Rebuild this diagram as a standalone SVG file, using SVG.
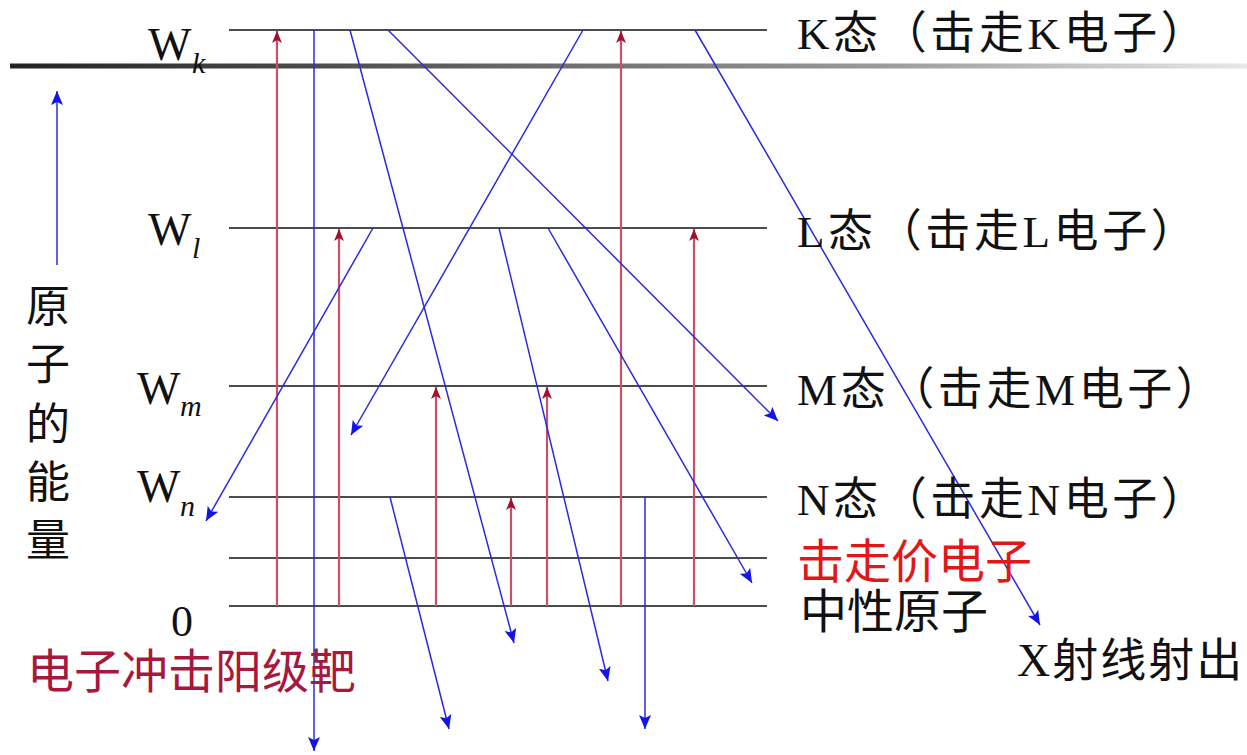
<svg xmlns="http://www.w3.org/2000/svg" width="1247" height="755" viewBox="0 0 1247 755">
<style>
.lvl{stroke:#111;stroke-width:1.6;fill:none}
.red{stroke:#c9506a;stroke-width:2.2;fill:none}
.blue{stroke:#2a2ae0;stroke-width:1.5;fill:none}
.t{font-family:"Liberation Serif","Noto Sans CJK SC",serif;fill:#111}
.cjk{font-family:"Noto Sans CJK SC",sans-serif}
.it{font-style:italic}
.st{letter-spacing:3.6px}
</style>
<defs>
<linearGradient id="bar" x1="0" y1="0" x2="1" y2="0">
<stop offset="0" stop-color="#222"/>
<stop offset="0.3" stop-color="#555"/>
<stop offset="0.7" stop-color="#999"/>
<stop offset="1" stop-color="#e8e8e8"/>
</linearGradient>
<marker id="ar" viewBox="0 0 12 10" refX="12" refY="5" markerWidth="12" markerHeight="10" orient="auto" markerUnits="userSpaceOnUse">
<path d="M0,0 L12,5 L0,10 L3,5 z" fill="#a3102e"/>
</marker>
<marker id="ab" viewBox="0 0 14 12" refX="14" refY="6" markerWidth="14" markerHeight="12" orient="auto" markerUnits="userSpaceOnUse">
<path d="M0,0 L14,6 L0,12 L3,6 z" fill="#1414e6"/>
</marker>
</defs>
<rect width="1247" height="755" fill="#fff"/>
<rect id="bar-line" x="10" y="63.5" width="1237" height="5" fill="url(#bar)"/>

<g id="levels">
<line class="lvl" x1="229" y1="30" x2="767" y2="30"/>
<line class="lvl" x1="229" y1="228" x2="767" y2="228"/>
<line class="lvl" x1="229" y1="386" x2="767" y2="386"/>
<line class="lvl" x1="229" y1="497" x2="767" y2="497"/>
<line class="lvl" x1="229" y1="558" x2="767" y2="558"/>
<line class="lvl" x1="229" y1="606" x2="767" y2="606"/>
</g>

<g id="connectors">
<line class="red" x1="277" y1="606" x2="277" y2="31" marker-end="url(#ar)"/>
<line class="red" x1="339" y1="606" x2="339" y2="229" marker-end="url(#ar)"/>
<line class="red" x1="436" y1="606" x2="436" y2="387" marker-end="url(#ar)"/>
<line class="red" x1="511" y1="606" x2="511" y2="498" marker-end="url(#ar)"/>
<line class="red" x1="547" y1="606" x2="547" y2="387" marker-end="url(#ar)"/>
<line class="red" x1="621" y1="606" x2="621" y2="31" marker-end="url(#ar)"/>
<line class="red" x1="694" y1="606" x2="694" y2="229" marker-end="url(#ar)"/>

<line class="blue" x1="314" y1="30" x2="314" y2="751" marker-end="url(#ab)"/>
<line class="blue" x1="350" y1="30" x2="514" y2="643" marker-end="url(#ab)"/>
<line class="blue" x1="388" y1="30" x2="778" y2="421" marker-end="url(#ab)"/>
<line class="blue" x1="583" y1="30" x2="351" y2="435" marker-end="url(#ab)"/>
<line class="blue" x1="695" y1="30" x2="1040" y2="625" marker-end="url(#ab)"/>
<line class="blue" x1="373" y1="228" x2="206" y2="521" marker-end="url(#ab)"/>
<line class="blue" x1="499" y1="228" x2="608" y2="681" marker-end="url(#ab)"/>
<line class="blue" x1="548" y1="228" x2="752" y2="583" marker-end="url(#ab)"/>
<line class="blue" x1="390" y1="497" x2="449" y2="729" marker-end="url(#ab)"/>
<line class="blue" x1="645" y1="497" x2="645" y2="729" marker-end="url(#ab)"/>
<line class="blue" x1="57" y1="265" x2="57" y2="91" marker-end="url(#ab)"/>
</g>

<g id="label-Wk"><text class="t" x="148" y="60" font-size="46">W</text><text class="t it" x="192" y="73" font-size="30">k</text></g>
<g id="label-Wl"><text class="t" x="148" y="245" font-size="46">W</text><text class="t it" x="192" y="258" font-size="30">l</text></g>
<g id="label-Wm"><text class="t" x="137" y="404" font-size="46">W</text><text class="t it" x="180" y="416" font-size="30">m</text></g>
<g id="label-Wn"><text class="t" x="137" y="502" font-size="46">W</text><text class="t it" x="180" y="516" font-size="30">n</text></g>
<g id="label-0"><text class="t" x="171" y="636" font-size="44">0</text></g>

<g id="label-axis" class="t cjk" font-size="44" text-anchor="middle">
<text x="48" y="322">原</text>
<text x="48" y="380">子</text>
<text x="48" y="440">的</text>
<text x="48" y="498">能</text>
<text x="48" y="556">量</text>
</g>

<g id="label-impact"><text class="t cjk" x="27" y="688" font-size="47" style="fill:#a8183c">电子冲击阳级靶</text></g>

<g id="label-K"><text class="t st" x="797" y="49" font-size="45">K<tspan class="cjk">态（击走</tspan>K<tspan class="cjk">电子）</tspan></text></g>
<g id="label-L"><text class="t st" x="797" y="247" font-size="45">L<tspan class="cjk">态（击走</tspan>L<tspan class="cjk">电子）</tspan></text></g>
<g id="label-M"><text class="t st" x="797" y="405" font-size="45">M<tspan class="cjk">态（击走</tspan>M<tspan class="cjk">电子）</tspan></text></g>
<g id="label-N"><text class="t st" x="797" y="515" font-size="45">N<tspan class="cjk">态（击走</tspan>N<tspan class="cjk">电子）</tspan></text></g>
<g id="label-valence"><text class="t cjk" x="797" y="578" font-size="47" style="fill:#e01818">击走价电子</text></g>
<g id="label-neutral"><text class="t cjk" x="800" y="628" font-size="47">中性原子</text></g>
<g id="label-xray"><text class="t" x="1017" y="676" font-size="46" letter-spacing="2">X<tspan class="cjk">射线射出</tspan></text></g>
</svg>
